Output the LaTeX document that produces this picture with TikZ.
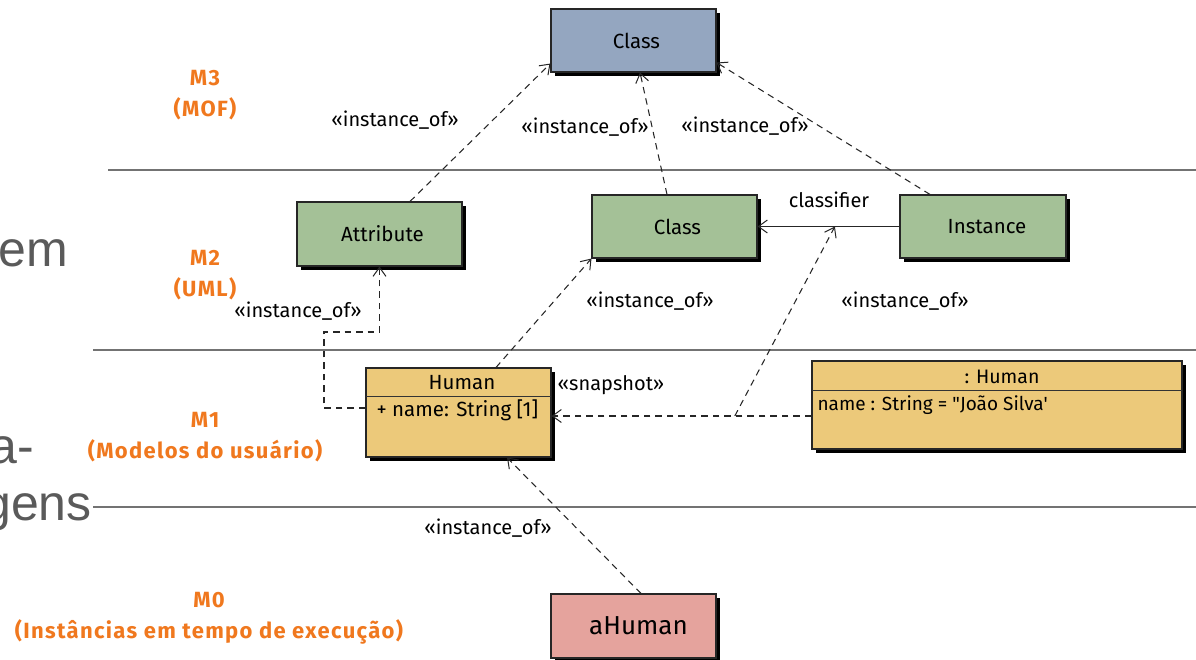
\documentclass[tikz,border=0pt]{standalone}
\usepackage{fontspec}
\setmainfont{Fira Sans}
\newfontfamily\slidefont{Liberation Sans}
\newfontfamily\levelfont{Fira Sans}[LetterSpace=6]
\usetikzlibrary{arrows.meta,shadows}

\definecolor{metaBlue}{RGB}{148,166,192}
\definecolor{umlGreen}{RGB}{164,193,151}
\definecolor{modelYellow}{RGB}{236,201,122}
\definecolor{runPink}{RGB}{229,163,157}
\definecolor{levelOrange}{RGB}{240,120,30}
\definecolor{slideGray}{RGB}{90,90,90}

\tikzset{
  umlbox/.style={draw=black!85, line width=1.1pt, rectangle, inner sep=0pt,
    drop shadow={shadow xshift=4pt, shadow yshift=-4pt, opacity=1, fill=black},
    font=\fontsize{20.5}{24}\selectfont},
  level/.style={text=levelOrange, align=center, font=\levelfont\bfseries\fontsize{22}{31}\selectfont},
  tag/.style={font=\fontsize{20}{24}\selectfont, inner sep=1pt},
  inst/.style={draw=black!85, line width=1.05pt, dash pattern=on 6.5pt off 5pt,
    -{Straight Barb[length=9pt,width=13pt,line width=1pt]}},
  assoc/.style={draw=black!85, line width=1.1pt,
    -{Straight Barb[length=9pt,width=13pt,line width=1pt]}},
  sep/.style={draw=black!55, line width=1.1pt},
  slidetext/.style={text=slideGray, font=\slidefont\fontsize{50}{55}\selectfont, inner sep=0pt}
}

\begin{document}
\begin{tikzpicture}[x=1pt,y=-1pt]
\useasboundingbox (0,0) rectangle (1196,660);
\fill[white] (0,0) rectangle (1196,660);

% text of the slide behind the diagram
\node[slidetext, anchor=base east] (s1) at (68,267) {em};
\node[slidetext, anchor=base east] (s2) at (34,463) {a-};
\node[slidetext, anchor=base east] (s3) at (92,520) {gens};

% level separators
\draw[sep] (108,170) -- (1196,170);
\draw[sep] (93,350) -- (1196,350);
\draw[sep] (93,507) -- (1196,507);

% level names
\node[level] (m3) at (205,95) {M3\\(MOF)};
\node[level] (m2) at (205,275) {M2\\(UML)};
\node[level] (m1) at (205,437) {M1\\(Modelos do usuário)};
\node[level] (m0) at (209,618) {M0\\(Instâncias em tempo de execução)};

% M3
\node[umlbox, fill=metaBlue, minimum width=165pt, minimum height=63pt] (mofclass) at (633.5,40.5) {\hspace*{6pt}Class};

% M2
\node[umlbox, fill=umlGreen, minimum width=165pt, minimum height=64pt] (attr) at (379.5,234) {\hspace*{6pt}Attribute};
\node[umlbox, fill=umlGreen, minimum width=165pt, minimum height=63pt] (umlclass) at (674.5,226.5) {\hspace*{6pt}Class};
\node[umlbox, fill=umlGreen, minimum width=166pt, minimum height=63pt] (instance) at (983,226.5) {\hspace*{8pt}Instance};

% M1
\node[umlbox, fill=modelYellow, minimum width=185pt, minimum height=89pt] (human) at (458.5,412.5) {};
\draw[black!80, line width=1pt] (366,396) -- (551,396);
\node[font=\fontsize{20.5}{24}\selectfont] (humanname) at (462,383) {Human};
\begin{scope}
  \clip (367,397) rectangle (537,456);
  \node[anchor=west, font=\fontsize{20.5}{24}\selectfont] (humanattr) at (373,410) {+ name: String [1]};
\end{scope}

\node[umlbox, fill=modelYellow, minimum width=370pt, minimum height=88pt] (object) at (997,405) {};
\draw[black!80, line width=1pt] (812,390) -- (1182,390);
\node[font=\fontsize{19.5}{23}\selectfont] (objectname) at (1002,377) {: Human};
\node[anchor=west, font=\fontsize{19}{22}\selectfont] (objectslot) at (814,405) {name : String = \textquotedbl João Silva\textquotesingle};

% M0
\node[umlbox, fill=runPink, minimum width=165pt, minimum height=64pt, font=\fontsize{26}{30}\selectfont] (ahuman) at (633.5,626) {\hspace*{10pt}aHuman};

% instance_of relations towards M3
\draw[inst] ([xshift=30.5pt]attr.north) -- ([yshift=9pt]mofclass.south west);
\draw[inst] ([xshift=-7.5pt]umlclass.north) -- ([xshift=6.5pt]mofclass.south);
\draw[inst] ([xshift=-53pt]instance.north) -- ([yshift=10pt]mofclass.south east);
\node[tag] (t1) at (395,120) {«instance\_of»};
\node[tag] (t2) at (585,127) {«instance\_of»};
\node[tag] (t3) at (745,126) {«instance\_of»};

% classifier association
\draw[assoc] (instance.west) -- coordinate[pos=0.455] (clsfpt) (umlclass.east);
\node[tag] (t4) at (829,200) {classifier};

% M1 towards M2
\draw[inst] ([xshift=37.5pt]human.north) -- (umlclass.south west);
\node[tag] (t5) at (650,301) {«instance\_of»};
\coordinate (bend) at (324,332);
\draw[inst] ([yshift=4.5pt]human.west) -| (bend) -| (attr.south);
\node[tag] (t6) at (298,311) {«instance\_of»};

% snapshot of the object
\draw[inst] ([yshift=-11pt]object.west) -- coordinate[pos=0.295] (snapmid) ([yshift=-11pt]object.west -| human.east);
\node[tag] (t7) at (611,385) {«snapshot»};
\draw[inst] (snapmid) -- (clsfpt);
\node[tag] (t8) at (905,301) {«instance\_of»};

% M0 towards M1
\draw[inst] ([xshift=7.5pt]ahuman.north) -- ([xshift=48.5pt]human.south);
\node[tag] (t9) at (488,528) {«instance\_of»};
\end{tikzpicture}
\end{document}
